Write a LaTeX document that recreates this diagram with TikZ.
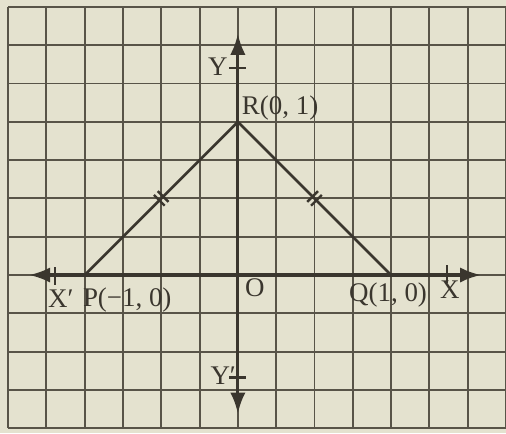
\documentclass[tikz,border=0pt]{standalone}
\usepackage{fontspec}
\setmainfont{Liberation Serif}
\usetikzlibrary{arrows.meta,calc}
\definecolor{paper}{RGB}{228,226,207}
\definecolor{ink}{RGB}{58,54,46}
\definecolor{gridc}{RGB}{88,84,72}
\begin{document}
\begin{tikzpicture}[
  gridline/.style={draw=gridc, line width=1.4pt},
  axis/.style={draw=ink, line width=2.4pt, -{Latex[length=5.5mm,width=4mm]}},
  side/.style={draw=ink, line width=2pt},
  tickmark/.style={draw=ink, line width=1.8pt},
  lbl/.style={text=ink, font=\fontsize{20}{24}\selectfont, inner sep=0pt}
]
\fill[paper] (-6.21,-4.13) rectangle (7.0,7.18);
\useasboundingbox (-6.21,-4.13) rectangle (7.0,7.18);
\draw[gridline] (-6,-4) grid (7,7);
% points
\coordinate (O) at (0,0);
\coordinate (P) at (-4,0);
\coordinate (Q) at (4,0);
\coordinate (R) at (0,4);
\coordinate (xr) at (6.35,0);
\coordinate (xl) at (-5.45,0);
\coordinate (yt) at (0,6.3);
\coordinate (yb) at (0,-3.62);
% axes
\draw[axis] (O) -- (xr);
\draw[axis] (O) -- (xl);
\draw[axis] (O) -- (yt);
\draw[axis] (O) -- (yb);
% axis ticks
\draw[tickmark] (5.46,-0.2) -- (5.46,0.25);
\draw[tickmark] (-4.78,-0.25) -- (-4.78,0.2);
\draw[tickmark] (-0.22,5.4) -- (0.22,5.4);
\draw[tickmark] (-0.22,-2.68) -- (0.22,-2.68);
% triangle sides
\draw[side] (P) -- (R) -- (Q);
% equal-length marks (double ticks)
\coordinate (m1) at ($(P)!0.5!(R)$);
\coordinate (m2) at ($(Q)!0.5!(R)$);
\foreach \m/\s in {m1/1, m2/-1}{
  \foreach \k in {1,-1}{
    \draw[tickmark] ($(\m)+(\k*0.05,\k*\s*0.05)+(-0.14,\s*0.14)$) -- ($(\m)+(\k*0.05,\k*\s*0.05)+(0.14,-\s*0.14)$);
  }
}
% labels
\node[lbl, anchor=base west] (lR) at (0.1,4.18) {R(0, 1)};
\node[lbl, anchor=base east] (lY) at (-0.26,5.22) {Y};
\node[lbl, anchor=base west] (lYp) at (-0.72,-2.87) {Y′};
\node[lbl, anchor=base west] (lXp) at (-4.96,-0.84) {X′};
\node[lbl, anchor=base west] (lP) at (-4.05,-0.82) {P(−1, 0)};
\node[lbl, anchor=base west] (lO) at (0.18,-0.55) {O};
\node[lbl, anchor=base west] (lQ) at (2.9,-0.68) {Q(1, 0)};
\node[lbl, anchor=base west] (lX) at (5.27,-0.62) {X};
\end{tikzpicture}
\end{document}
